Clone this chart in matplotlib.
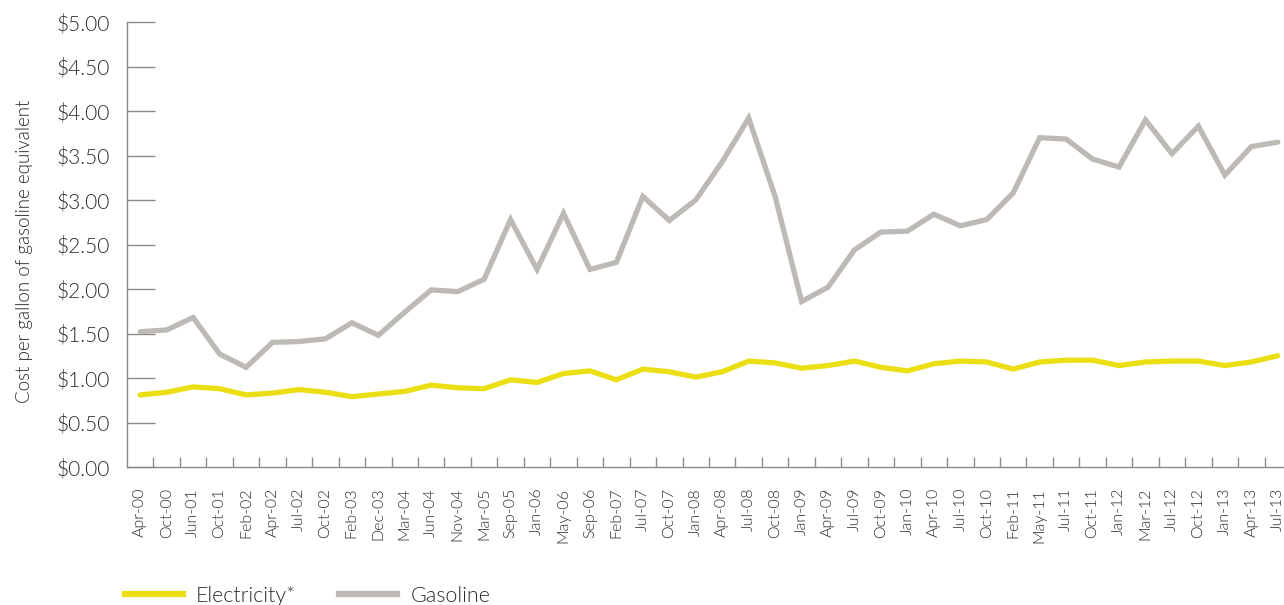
import matplotlib
matplotlib.use("Agg")
import matplotlib.pyplot as plt
from matplotlib.lines import Line2D

plt.rcParams['font.family'] = ['Lato', 'DejaVu Sans']
plt.rcParams['font.weight'] = 300

categories = ["Apr-00", "Oct-00", "Jun-01", "Oct-01", "Feb-02", "Apr-02", "Jul-02", "Oct-02",
              "Feb-03", "Dec-03", "Mar-04", "Jun-04", "Nov-04", "Mar-05", "Sep-05", "Jan-06",
              "May-06", "Sep-06", "Feb-07", "Jul-07", "Oct-07", "Jan-08", "Apr-08", "Jul-08",
              "Oct-08", "Jan-09", "Apr-09", "Jul-09", "Oct-09", "Jan-10", "Apr-10", "Jul-10",
              "Oct-10", "Feb-11", "May-11", "Jul-11", "Oct-11", "Jan-12", "Mar-12", "Jul-12",
              "Oct-12", "Jan-13", "Apr-13", "Jul-13"]

gasoline = [1.52, 1.54, 1.68, 1.27, 1.12, 1.40, 1.41, 1.44, 1.62, 1.48, 1.74, 1.99,
            1.97, 2.11, 2.78, 2.22, 2.85, 2.22, 2.30, 3.04, 2.77, 3.00, 3.43, 3.92,
            3.04, 1.86, 2.02, 2.44, 2.64, 2.65, 2.84, 2.71, 2.78, 3.08, 3.70, 3.685,
            3.46, 3.37, 3.90, 3.52, 3.83, 3.28, 3.60, 3.65]

electricity = [0.81, 0.84, 0.90, 0.88, 0.81, 0.83, 0.87, 0.84, 0.79, 0.82, 0.85, 0.92,
               0.89, 0.88, 0.98, 0.95, 1.05, 1.08, 0.98, 1.10, 1.07, 1.01, 1.07, 1.19,
               1.17, 1.11, 1.14, 1.19, 1.12, 1.08, 1.16, 1.19, 1.18, 1.10, 1.18, 1.20,
               1.20, 1.14, 1.18, 1.19, 1.19, 1.14, 1.18, 1.25]

y_ticks = [0, 0.5, 1.0, 1.5, 2.0, 2.5, 3.0, 3.5, 4.0, 4.5, 5.0]
y_labels = ["$0.00", "$0.50", "$1.00", "$1.50", "$2.00", "$2.50", "$3.00",
            "$3.50", "$4.00", "$4.50", "$5.00"]

W, H = 1284, 605
fig = plt.figure(figsize=(W / 100, H / 100), dpi=100)
left, right, top, bottom = 127, 1291, 22, 467
ax = fig.add_axes([left / W, (H - bottom) / H, (right - left) / W, (bottom - top) / H])

text_color = "#2a2a2a"
axis_color = "#8a8a8a"
yellow = "#EBDF14"
gray = "#BDB9B5"

x = list(range(len(categories)))
ax.plot(x, electricity, color=yellow, lw=3.8, solid_capstyle='round', solid_joinstyle='miter', zorder=3)
ax.plot(x, gasoline, color=gray, lw=3.8, solid_capstyle='round', solid_joinstyle='miter', zorder=3)

ax.set_xlim(-0.5, len(categories) - 0.5)
ax.set_ylim(0, 5)

for s in ['top', 'right']:
    ax.spines[s].set_visible(False)
for s in ['left', 'bottom']:
    ax.spines[s].set_color(axis_color)
    ax.spines[s].set_linewidth(1.0)

ax.set_yticks(y_ticks)
ax.set_yticklabels(y_labels, fontsize=15, color=text_color, fontweight=300)
ax.tick_params(axis='y', direction='in', length=20, width=1.0, color=axis_color, pad=12)

ax.set_xticks([i + 0.5 for i in x[:-1]], minor=False)
ax.set_xticklabels([])
ax.tick_params(axis='x', which='major', direction='in', length=7.5, width=1.0, color=axis_color)
ax.set_xticks(x, minor=True)
ax.set_xticklabels(categories, minor=True, rotation=90, fontsize=11.5, color=text_color, fontweight=300)
ax.tick_params(axis='x', which='minor', length=0, pad=15)

ax.set_ylabel("Cost per gallon of gasoline equivalent", fontsize=13.5, color=text_color,
              fontweight=300)
ax.yaxis.set_label_coords(-0.081, 0.485)

handles = [Line2D([], [], color=yellow, lw=4.5), Line2D([], [], color=gray, lw=4.5)]
fig.legend(handles, ["Electricity*", "Gasoline"], loc='center left',
           bbox_to_anchor=(125 / W, (H - 596) / H), ncol=2, frameon=False,
           fontsize=15.5, handlelength=2.7, handletextpad=0.6, columnspacing=2.0,
           borderpad=0, borderaxespad=0, labelcolor=text_color)

fig.savefig("out.png", dpi=100)
